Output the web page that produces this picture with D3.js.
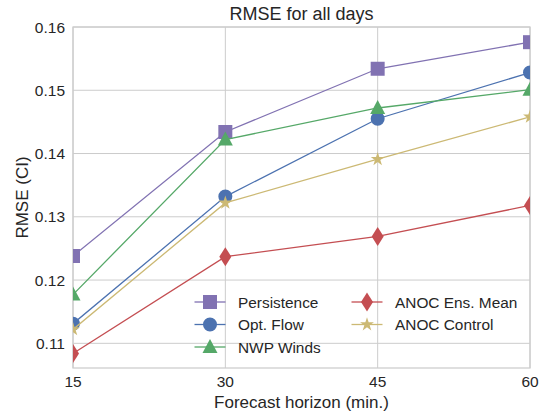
<!doctype html>
<html>
<head>
<meta charset="UTF-8">
<title>RMSE for all days</title>
<style>
  body { margin: 0; background: #fff; }
  text { font-family: "Liberation Sans", Arial, sans-serif; fill: #262626; }
</style>
</head>
<body>
<div id="chart"></div>
<script src="https://cdn.jsdelivr.net/npm/d3@7"></script>
<script>
var horizons = [15, 30, 45, 60];
var yTicks = [0.11, 0.12, 0.13, 0.14, 0.15, 0.16];
var seriesNames = ["Persistence", "Opt. Flow", "NWP Winds", "ANOC Ens. Mean", "ANOC Control"];
var persistence = [0.1238, 0.1434, 0.1534, 0.1576];
var optFlow = [0.1131, 0.1332, 0.1455, 0.1528];
var nwpWinds = [0.1177, 0.1422, 0.1472, 0.1501];
var anocEnsMean = [0.1084, 0.1237, 0.1269, 0.1318];
var anocControl = [0.1122, 0.1322, 0.1391, 0.1458];

var W = 548, H = 414;
var m = {left: 73, right: 18, top: 27, bottom: 46};

var svg = d3.select("#chart").append("svg")
  .attr("width", W).attr("height", H);

var x = d3.scaleLinear().domain([15, 60]).range([m.left, W - m.right]);
var y = d3.scaleLinear().domain([0.1061, 0.16]).range([H - m.bottom, m.top]);

var series = [
  {name: seriesNames[0], values: persistence, color: "#8172B2", sym: "square"},
  {name: seriesNames[1], values: optFlow, color: "#4C72B0", sym: "circle"},
  {name: seriesNames[2], values: nwpWinds, color: "#55A868", sym: "triangle"},
  {name: seriesNames[3], values: anocEnsMean, color: "#C44E52", sym: "diamond"},
  {name: seriesNames[4], values: anocControl, color: "#CCB974", sym: "star"}
];

// marker shapes drawn as paths centred on 0,0
function marker(sym) {
  if (sym === "square") return "M-7,-7H7V7H-7Z";
  if (sym === "circle") return d3.symbol(d3.symbolCircle, 154)();
  if (sym === "triangle") return "M0,-8L7.5,6H-7.5Z";
  if (sym === "diamond") return "M0,-9.5L6,0L0,9.5L-6,0Z";
  return d3.symbol(d3.symbolStar, 60)();
}

svg.append("defs").append("clipPath").attr("id", "clip")
  .append("rect")
  .attr("x", m.left).attr("y", m.top)
  .attr("width", W - m.left - m.right).attr("height", H - m.top - m.bottom);

// grid
svg.append("g").selectAll("line").data(yTicks).join("line")
  .attr("x1", m.left).attr("x2", W - m.right)
  .attr("y1", d => y(d)).attr("y2", d => y(d))
  .attr("stroke", "#cccccc").attr("stroke-width", 1);
svg.append("g").selectAll("line").data(horizons).join("line")
  .attr("x1", d => x(d)).attr("x2", d => x(d))
  .attr("y1", m.top).attr("y2", H - m.bottom)
  .attr("stroke", "#cccccc").attr("stroke-width", 1);

svg.append("rect")
  .attr("x", m.left).attr("y", m.top)
  .attr("width", W - m.left - m.right).attr("height", H - m.top - m.bottom)
  .attr("fill", "none").attr("stroke", "#cccccc").attr("stroke-width", 1.25);

// tick labels
svg.append("g").selectAll("text").data(yTicks).join("text")
  .attr("x", m.left - 8).attr("y", d => y(d))
  .attr("text-anchor", "end").attr("dominant-baseline", "central")
  .style("font-size", "15.5px")
  .text(d => d3.format(".2f")(d));
svg.append("g").selectAll("text").data(horizons).join("text")
  .attr("x", d => x(d)).attr("y", H - m.bottom + 19)
  .attr("text-anchor", "middle")
  .style("font-size", "15.5px")
  .text(d => d);

// lines and markers
var plot = svg.append("g").attr("clip-path", "url(#clip)");
var line = d3.line().x((d, i) => x(horizons[i])).y(d => y(d));
series.forEach(function(s) {
  plot.append("path").datum(s.values)
    .attr("d", line).attr("fill", "none")
    .attr("stroke", s.color).attr("stroke-width", 1.3);
  plot.append("g").selectAll("path").data(s.values).join("path")
    .attr("transform", (d, i) => "translate(" + x(horizons[i]) + "," + y(d) + ")")
    .attr("d", marker(s.sym))
    .attr("fill", s.color);
});

// legend
var legend = svg.append("g");
var cols = [[0, 1, 2], [3, 4]];
var colX = [210, 367];
var rowY = [302, 324.5, 347];
cols.forEach(function(col, ci) {
  col.forEach(function(si, ri) {
    var s = series[si];
    var g = legend.append("g")
      .attr("transform", "translate(" + colX[ci] + "," + rowY[ri] + ")");
    g.append("line").attr("x1", -15.5).attr("x2", 15.5)
      .attr("stroke", s.color).attr("stroke-width", 1.3);
    g.append("path").attr("d", marker(s.sym)).attr("fill", s.color);
    g.append("text").attr("x", 28).attr("y", 0)
      .attr("dominant-baseline", "central")
      .style("font-size", "15.4px")
      .text(s.name);
  });
});

// titles
svg.append("text")
  .attr("x", (m.left + W - m.right) / 2).attr("y", 20)
  .attr("text-anchor", "middle").style("font-size", "18px")
  .text("RMSE for all days");
svg.append("text")
  .attr("x", (m.left + W - m.right) / 2).attr("y", 408)
  .attr("text-anchor", "middle").style("font-size", "17px")
  .text("Forecast horizon (min.)");
svg.append("text")
  .attr("transform", "translate(28," + ((m.top + H - m.bottom) / 2) + ") rotate(-90)")
  .attr("text-anchor", "middle").style("font-size", "17px")
  .text("RMSE (CI)");
</script>
</body>
</html>
